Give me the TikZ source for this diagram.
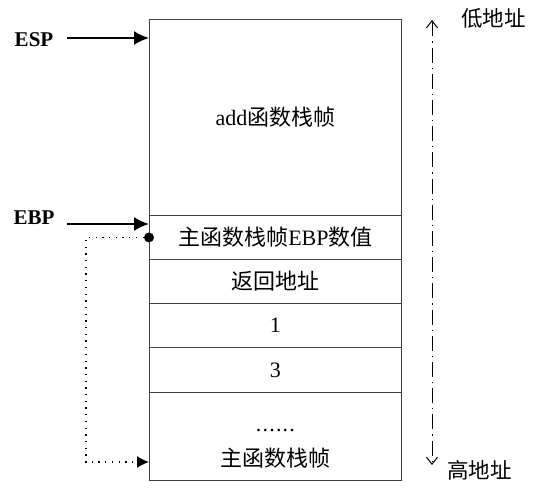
\documentclass[tikz,border=0pt]{standalone}
\usepackage{fontspec}
\setmainfont{Liberation Serif}
\newfontfamily\cjk{Noto Sans CJK SC}
\usetikzlibrary{arrows.meta}
\newcommand{\dotrow}{.\hspace{1.2pt}.\hspace{1.2pt}.\hspace{1.2pt}.\hspace{1.2pt}.\hspace{1.2pt}.}
\begin{document}
\begin{tikzpicture}[x=1pt,y=-1pt,
  cell/.style={draw=black!75, line width=0.9pt, minimum width=252pt, inner sep=0pt, anchor=north west, font=\fontsize{22}{26}\selectfont},
  reg/.style={font=\bfseries\fontsize{21}{24}\selectfont, inner sep=0pt},
  ptr/.style={line width=2pt, -{Latex[length=15pt,width=14pt]}},
  link/.style={line width=1.3pt, dash pattern=on 1.3pt off 5.4pt, -{Latex[length=12pt,width=12pt]}},
  axis/.style={line width=1pt, dash pattern=on 15pt off 5pt on 1.2pt off 5pt, {Straight Barb[length=7pt,width=11pt]}-{Straight Barb[length=7pt,width=11pt]}},
  addr/.style={font=\cjk\fontsize{21.5}{24}\selectfont, inner sep=0pt, anchor=west}]
\useasboundingbox (0,0) rectangle (548,494);
\fill[white] (0,0) rectangle (548,494);
% stack cells
\node[cell, minimum height=196pt] (add) at (149,19) {add{\cjk 函数栈帧}};
\node[cell, minimum height=44pt] (ebpv) at (149,215) {{\cjk 主函数栈帧}EBP{\cjk 数值}};
\node[cell, minimum height=44pt] (ret) at (149,259) {{\cjk 返回地址}};
\node[cell, minimum height=44pt] (one) at (149,303) {1};
\node[cell, minimum height=45pt] (three) at (149,347) {3};
\node[cell, minimum height=88pt, align=center] (main) at (149,392) {\rule{0pt}{27pt}\dotrow\\[9pt]{\cjk 主函数栈帧}};
% registers
\node[reg] (esp) at (34,40) {ESP};
\node[reg] (ebp) at (34,218) {EBP};
\coordinate (espfrom) at (67,38);
\coordinate (ebpfrom) at (67,224);
\draw[ptr] (espfrom) -- (espfrom -| add.west);
\draw[ptr] (ebpfrom) -- (ebpfrom -| ebpv.west);
% saved EBP link
\node[circle, fill, inner sep=0pt, minimum size=10pt] (dot) at (ebpv.west) {};
\coordinate (bend) at (86,462);
\draw[link] (dot.west) -| (bend) -- (bend -| main.west);
% address axis
\coordinate (atop) at (432,20);
\coordinate (abot) at (432,465);
\draw[axis] (atop) -- (abot);
\node[addr] (low) at (461,18) {低地址};
\node[addr] (high) at (447,470) {高地址};
\end{tikzpicture}
\end{document}
